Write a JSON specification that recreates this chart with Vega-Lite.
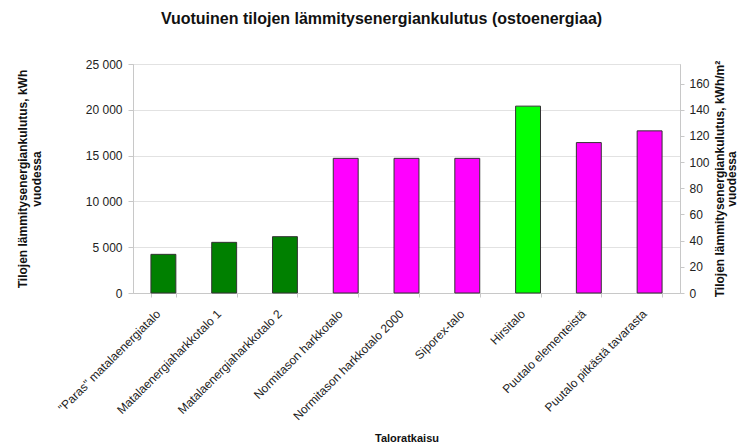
{
  "$schema": "https://vega.github.io/schema/vega-lite/v6.json",
  "width": 547,
  "height": 229,
  "autosize": {"type": "none"},
  "padding": {"left": 133, "top": 64, "right": 60, "bottom": 152},
  "background": "white",
  "config": {
    "font": "Liberation Sans",
    "view": {"stroke": "#c8c8c8", "strokeWidth": 1}
  },
  "title": {
    "text": "Vuotuinen tilojen lämmitysenergiankulutus (ostoenergiaa)",
    "font": "Liberation Sans",
    "fontSize": 16,
    "fontWeight": "bold",
    "color": "#111",
    "anchor": "middle",
    "dx": -25,
    "offset": 31
  },
  "data": {
    "values": [
      {"talo": "\"Paras\" matalaenergiatalo", "kwh": 4220, "tyyppi": "a"},
      {"talo": "Matalaenergiaharkkotalo 1", "kwh": 5530, "tyyppi": "a"},
      {"talo": "Matalaenergiaharkkotalo 2", "kwh": 6150, "tyyppi": "a"},
      {"talo": "Normitason harkkotalo", "kwh": 14700, "tyyppi": "b"},
      {"talo": "Normitason harkkotalo 2000", "kwh": 14700, "tyyppi": "b"},
      {"talo": "Siporex-talo", "kwh": 14700, "tyyppi": "b"},
      {"talo": "Hirsitalo", "kwh": 20400, "tyyppi": "c"},
      {"talo": "Puutalo elementeistä", "kwh": 16420, "tyyppi": "b"},
      {"talo": "Puutalo pitkästä tavarasta", "kwh": 17700, "tyyppi": "b"}
    ]
  },
  "layer": [
    {
      "mark": {"type": "bar", "stroke": "#333", "strokeWidth": 1},
      "encoding": {
        "x": {
          "field": "talo",
          "type": "nominal",
          "sort": null,
          "scale": {"paddingInner": 0.59, "paddingOuter": 0.295},
          "axis": {
            "title": "Taloratkaisu",
            "titleFont": "Liberation Sans",
            "titleFontSize": 11,
            "titleFontWeight": "bold",
            "titleColor": "#111",
            "titlePadding": 11,
            "labelAngle": -45,
            "labelFontSize": 12,
            "labelColor": "#222",
            "labelPadding": 11,
            "labelOffset": -9,
            "labelLimit": 300,
            "tickBand": "extent",
            "tickColor": "#c8c8c8",
            "tickSize": 4,
            "domainColor": "#c8c8c8",
            "grid": false
          }
        },
        "y": {
          "field": "kwh",
          "type": "quantitative",
          "scale": {"domain": [0, 25000], "nice": false},
          "axis": {
            "title": ["Tilojen lämmitysenergiankulutus, kWh", "vuodessa"],
            "titleFontSize": 12,
            "titleFontWeight": "bold",
            "titleColor": "#111",
            "titlePadding": 42,
            "titleLineHeight": 14,
            "values": [0, 5000, 10000, 15000, 20000, 25000],
            "labelExpr": "replace(format(datum.value, ','), ',', ' ')",
            "labelFontSize": 12,
            "labelColor": "#222",
            "labelPadding": 6,
            "tickColor": "#c8c8c8",
            "tickSize": 5,
            "domainColor": "#c8c8c8",
            "grid": true,
            "gridColor": "#e2e2e2"
          }
        },
        "color": {
          "field": "tyyppi",
          "type": "nominal",
          "scale": {"domain": ["a", "b", "c"], "range": ["#008000", "#ff00ff", "#00ff00"]},
          "legend": null
        }
      }
    },
    {
      "mark": {"type": "rule", "opacity": 0},
      "encoding": {
        "y": {
          "datum": 0,
          "type": "quantitative",
          "scale": {"domain": [0, 175], "nice": false},
          "axis": {
            "orient": "right",
            "title": ["Tilojen lämmitysenergiankulutus, kWh/m²", "vuodessa"],
            "titleFontSize": 12,
            "titleFontWeight": "bold",
            "titleColor": "#111",
            "titleAngle": -90,
            "titlePadding": 5,
            "titleLineHeight": 12,
            "values": [0, 20, 40, 60, 80, 100, 120, 140, 160],
            "labelFontSize": 12,
            "labelColor": "#222",
            "labelPadding": 5,
            "tickColor": "#c8c8c8",
            "tickSize": 4,
            "domainColor": "#c8c8c8",
            "grid": false
          }
        }
      }
    }
  ],
  "resolve": {"scale": {"y": "independent"}}
}
